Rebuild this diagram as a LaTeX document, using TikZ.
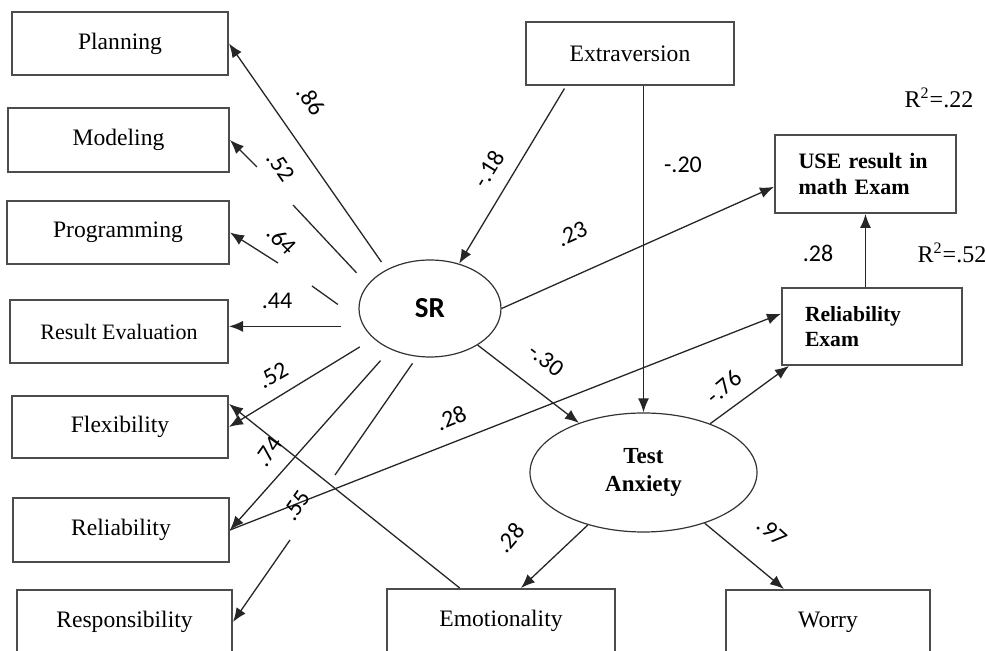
\documentclass[tikz,border=0pt]{standalone}
\usepackage{fontspec}
\setmainfont{Liberation Serif}
\newfontfamily\coefont{Carlito}
\usetikzlibrary{arrows.meta,shapes.geometric}

\begin{document}
\begin{tikzpicture}[x=0.5pt,y=-0.5pt,
	box/.style={draw=black!70,line width=1pt,inner sep=0pt,font=\fontsize{11.8}{14}\selectfont},
	bbox/.style={box,text width=67pt,align=left},
	lat/.style={draw=black!80,line width=0.6pt,ellipse,inner sep=0pt},
	coef/.style={font=\coefont\fontsize{12}{14}\selectfont,inner sep=0pt},
	seg/.style={draw=black!85,line width=0.65pt},
	arr/.style={seg,-{Latex[length=7pt,width=5.5pt]}}]
		\useasboundingbox (0,0) rectangle (986,651);
		\clip (0,0) rectangle (986,651);
		\node[box,minimum width=108pt,minimum height=31.5pt] (plan) at (120,43.5) {Planning};
		\node[box,minimum width=110.5pt,minimum height=32pt] (mod) at (118.5,140) {Modeling};
		\node[box,minimum width=111pt,minimum height=31.5pt] (prog) at (118,232.5) {Programming};
		\node[box,minimum width=109pt,minimum height=31.5pt,font=\fontsize{11}{13}\selectfont] (reval) at (119,331.5) {Result Evaluation};
		\node[box,minimum width=108pt,minimum height=31pt] (flex) at (120,427) {Flexibility};
		\node[box,minimum width=108pt,minimum height=32pt] (rel) at (121,530) {Reliability};
		\node[box,minimum width=107.5pt,minimum height=32pt] (resp) at (124.5,622) {Responsibility};
		\node[box,minimum width=104pt,minimum height=31.5pt] (ext) at (630,53.5) {Extraversion};
		\node[bbox,minimum width=90.5pt,minimum height=39pt,font=\bfseries\fontsize{11}{13}\selectfont] (use) at (865.5,174) {USE result in\\math Exam};
		\node[bbox,minimum width=90pt,minimum height=38.5pt,font=\bfseries\fontsize{10.8}{12.5}\selectfont] (relex) at (872,326.5) {Reliability\\Exam};
		\node[box,minimum width=114pt,minimum height=32pt] (emo) at (501,621) {Emotionality};
		\node[box,minimum width=102pt,minimum height=32pt] (worry) at (828,622) {Worry};
		\node[lat,minimum width=71pt,minimum height=48.5pt,font=\coefont\bfseries\fontsize{14.5}{16}\selectfont] (sr) at (430,308.5) {SR};
		\node[lat,minimum width=113.5pt,minimum height=59.5pt,align=center,font=\bfseries\fontsize{11.5}{14}\selectfont] (ta) at (643.5,472.5) {Test\\Anxiety};
		% SR indicators
		\coordinate (m1) at (293,205);
		\coordinate (m2) at (257,167);
		\coordinate (p1) at (312,286);
		\coordinate (p2) at (278,263);
		\coordinate (s1) at (335,475);
		\coordinate (s2) at (290,540);
		\draw (sr.138) edge[arr,shorten <=4.5pt] (plan.east);
		\draw [seg,shorten <=8pt] (sr.159) -- (m1);
		\draw (m2) edge[arr] (mod.east);
		\draw [seg,shorten <=14pt] (sr.190) -- (p1);
		\draw (p2) edge[arr] (prog.east);
		\draw (sr.195) edge[arr,shorten <=11pt] (sr.195 -| reval.east);
		\draw (sr.208) edge[arr,shorten <=8pt] (flex.east);
		\draw (sr.226) edge[arr,shorten <=7.5pt] (rel.east);
		\draw [seg,shorten <=4pt] (sr.255) -- (s1);
		\draw (s2) edge[arr] (resp.east);
		\draw (emo) edge[arr] (flex.12);
		\draw (rel.east) edge[arr] (relex.172);
		% structural paths
		\draw ([xshift=-32pt]ext.south) edge[arr,shorten <=1.5pt] (sr.57);
		\draw (ext.south -| ta.north) edge[arr] (ta.north);
		\draw (sr.east) edge[arr] (use.188);
		\draw (sr) edge[arr] (ta);
		\draw (ta) edge[arr] ([xshift=4pt]relex.south west);
		\draw (ta) edge[arr] ([xshift=10pt]emo.north);
		\draw (ta) edge[arr] ([xshift=-22pt]worry.north);
		\draw (relex.north -| use.south) edge[arr] (use.south);
		% coefficients
		\node[coef,rotate=-55] (c1) at (311,100) {.86};
		\node[coef,rotate=-55] (c2) at (281,167) {.52};
		\node[coef,rotate=-45] (c3) at (282,240) {.64};
		\node[coef] (c4) at (277,301) {.44};
		\node[coef,rotate=30] (c5) at (273,375) {.52};
		\node[coef,rotate=55] (c6) at (269,452) {.74};
		\node[coef,rotate=55] (c7) at (297,506) {.55};
		\node[coef,rotate=22] (c8) at (451,418) {.28};
		\node[coef,rotate=24] (c9) at (572,234) {.23};
		\node[coef,rotate=58] (c10) at (489,169) {-.18};
		\node[coef] (c11) at (683,165) {-.20};
		\node[coef,rotate=-38] (c12) at (546,360) {-.30};
		\node[coef,rotate=40] (c13) at (724,387) {-.76};
		\node[coef,rotate=50] (c14) at (510,538) {.28};
		\node[coef,rotate=-42] (c15) at (772,532) {.97};
		\node[coef] (c16) at (818,253) {.28};
		\node[font=\fontsize{12}{14}\selectfont] (r1) at (939,98) {R\textsuperscript{2}=.22};
		\node[font=\fontsize{12}{14}\selectfont] (r2) at (952,253) {R\textsuperscript{2}=.52};
\end{tikzpicture}
\end{document}
